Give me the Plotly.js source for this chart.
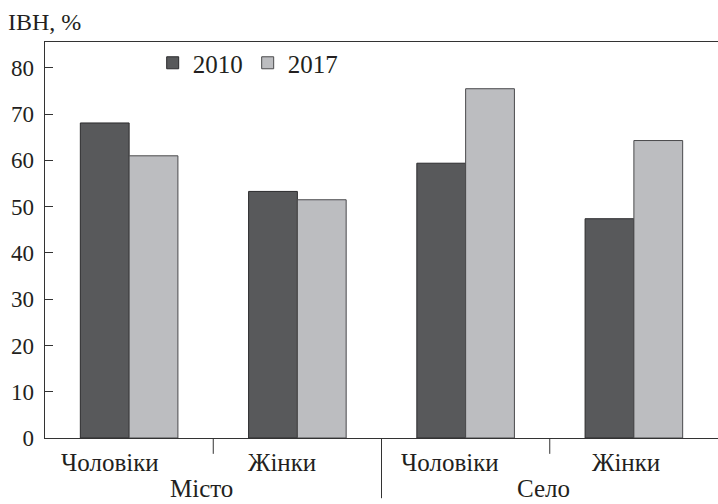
<!DOCTYPE html>
<html><head><meta charset="utf-8">
<script src="https://cdn.plot.ly/plotly-3.0.1.min.js"></script>
<style>body{margin:0;background:#fff}#c{width:718px;height:504px}</style>
</head><body><div id="c"></div>
<script>
const categories = ['Місто – Чоловіки','Місто – Жінки','Село – Чоловіки','Село – Жінки'];
const subLabels = ['Чоловіки','Жінки','Чоловіки','Жінки'];
const groupLabels = ['Місто','Село'];
const series2010 = [68.1, 53.3, 59.4, 47.4];
const series2017 = [61.0, 51.5, 75.5, 64.3];
const yTicks = [0,10,20,30,40,50,60,70,80];

const FONT = 'Liberation Serif, Times New Roman, serif';
const TXT = '#231f20';

const traces = [
  {type:'bar', name:'2010', x:categories, y:series2010,
   marker:{color:'#58595b', line:{color:'#2b2b2d', width:1}}},
  {type:'bar', name:'2017', x:categories, y:series2017,
   marker:{color:'#bcbdc0', line:{color:'#4a4a4c', width:1}}}
];

const subX = [0.096, 0.352, 0.602, 0.863];
const groupX = [0.232, 0.741];
const annotations = [];
subLabels.forEach((t,i)=>annotations.push({text:t, xref:'paper', yref:'paper', x:subX[i], y:-0.062,
  xanchor:'center', yanchor:'middle', showarrow:false, font:{family:FONT, size:25, color:TXT}}));
groupLabels.forEach((t,i)=>annotations.push({text:t, xref:'paper', yref:'paper', x:groupX[i], y:-0.1635,
  xanchor:'center', yanchor:'bottom', borderpad:0, showarrow:false, font:{family:FONT, size:25, color:TXT}}));

const shapes = [
  {type:'line', xref:'x', yref:'paper', x0:0.5, x1:0.5, y0:0, y1:-0.04, line:{color:'#333', width:1}},
  {type:'line', xref:'x', yref:'paper', x0:2.5, x1:2.5, y0:0, y1:-0.04, line:{color:'#333', width:1}},
  {type:'line', xref:'x', yref:'paper', x0:1.5, x1:1.5, y0:0, y1:-0.152, line:{color:'#333', width:1}}
];

const layout = {
  width:718, height:504,
  margin:{l:45, r:0, t:42, b:66},
  paper_bgcolor:'#fff', plot_bgcolor:'#fff',
  font:{family:FONT, color:TXT, size:23},
  title:{text:'ІВН, %', xref:'container', yref:'container', x:0.011, xanchor:'left', y:0.958, yanchor:'middle',
    font:{family:FONT, size:24, color:TXT}},
  barmode:'group', bargap:0.42, bargroupgap:0,
  showlegend:true,
  legend:{orientation:'h', x:0.16, y:1.005, xanchor:'left', yanchor:'top', font:{family:FONT, size:25, color:TXT},
    bgcolor:'rgba(0,0,0,0)', itemwidth:30, tracegroupgap:0},
  xaxis:{type:'category', showline:true, mirror:true, linecolor:'#333', linewidth:1.3,
    showticklabels:false, ticks:'', showgrid:false, zeroline:false, range:[-0.5,3.5], fixedrange:true},
  yaxis:{range:[0,85.6], tickvals:yTicks, ticktext:yTicks.map(String), ticks:'inside', ticklen:8, tickcolor:'#333',
    showline:true, linecolor:'#333', linewidth:1.3, showgrid:false, zeroline:false,
    tickfont:{family:FONT, size:23, color:TXT}, ticklabelstandoff:5},
  annotations, shapes
};
Plotly.newPlot('c', traces, layout, {staticPlot:true, displayModeBar:false});
</script></body></html>
